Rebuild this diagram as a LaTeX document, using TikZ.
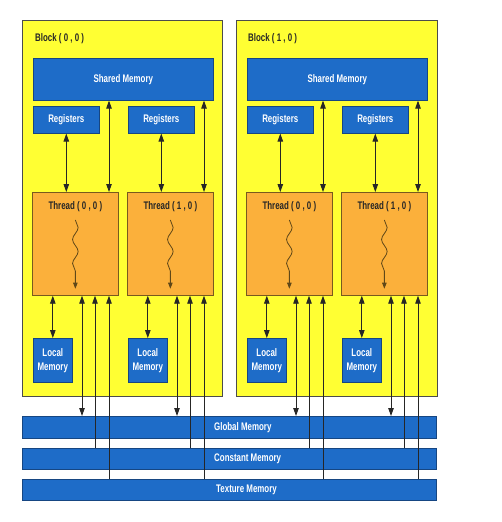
\documentclass[tikz,border=0pt]{standalone}
\usepackage{fontspec}
\setmainfont{Liberation Sans}[FakeStretch=0.72]
\usetikzlibrary{arrows.meta,decorations.pathmorphing,calc}
\definecolor{yellowc}{RGB}{255,255,51}
\definecolor{orangec}{RGB}{251,176,59}
\definecolor{bluec}{RGB}{30,108,200}
\definecolor{blueb}{RGB}{22,70,130}
\definecolor{thrb}{RGB}{120,90,30}
\tikzset{
  blockbox/.style={draw=black!70, fill=yellowc, line width=0.8pt, inner sep=0pt},
  membox/.style={draw=blueb, fill=bluec, text=white, font=\fontsize{11}{12}\selectfont\bfseries, inner sep=0pt, line width=0.6pt},
  bartext/.style={text=white, font=\fontsize{11}{12}\selectfont\bfseries, inner sep=0pt, anchor=west},
  thrbox/.style={draw=thrb, fill=orangec, inner sep=0pt, line width=0.7pt},
  lbl/.style={font=\fontsize{11}{12}\selectfont\bfseries, text=black!85, inner sep=0pt},
  tip/.tip={Triangle[length=8pt,width=5.5pt]},
  ar/.style={line width=0.9pt, draw=black!85, -tip},
  dar/.style={line width=0.9pt, draw=black!85, tip-tip},
  wavy/.style={line width=0.8pt, draw=thrb!80!black, decorate,
    decoration={snake, amplitude=2.8pt, segment length=24pt, post length=6pt},
    -{Triangle[length=6pt,width=4.5pt]}}
}
\begin{document}
\begin{tikzpicture}[x=1pt,y=-1pt]
\useasboundingbox (0,0) rectangle (502,522);
% blocks
\node[blockbox, minimum width=200pt, minimum height=376pt, anchor=north west] (blk0) at (22,20) {};
\node[blockbox, minimum width=201pt, minimum height=376pt, anchor=north west] (blk1) at (236,20) {};
\node[lbl, anchor=west] (bl0) at (35,39) {Block ( 0 , 0 )};
\node[lbl, anchor=west] (bl1) at (248,39) {Block ( 1 , 0 )};
% memory bars
\node[membox, minimum width=414pt, minimum height=22pt, anchor=north west] (glob) at (22,416) {};
\node[membox, minimum width=414pt, minimum height=21pt, anchor=north west] (const) at (22,448) {};
\node[membox, minimum width=414pt, minimum height=21pt, anchor=north west] (tex) at (22,479) {};
\node[bartext] (globt) at ([xshift=192pt]glob.west) {Global Memory};
\node[bartext] (constt) at ([xshift=192pt]const.west) {Constant Memory};
\node[bartext] (text) at ([xshift=194pt]tex.west) {Texture Memory};
% shared memory
\node[membox, minimum width=180pt, minimum height=42pt, anchor=north west] (sm0) at (33,58) {Shared Memory};
\node[membox, minimum width=180pt, minimum height=42pt, anchor=north west] (sm1) at (247,58) {Shared Memory};
% threads
\foreach \i/\L/\b/\t in {1/32/0/{( 0 , 0 )}, 2/127/0/{( 1 , 0 )}, 3/246/1/{( 0 , 0 )}, 4/341/1/{( 1 , 0 )}} {
  \node[thrbox, minimum width=86pt, minimum height=103pt, anchor=north west] (thr\i) at (\L,192) {};
  \node[lbl] (tl\i) at ([yshift=-15pt]thr\i.north) {Thread \t};
  \node[membox, minimum width=66pt, minimum height=27pt, anchor=north west] (reg\i) at (\L+1,106) {Registers};
  \node[membox, align=center, minimum width=39pt, minimum height=44pt, anchor=north west,
        font=\fontsize{11}{14}\selectfont\bfseries] (loc\i) at (\L+1,338) {Local\\Memory};
  \draw[wavy] ([yshift=-28pt]thr\i.north) -- ([yshift=7pt]thr\i.south);
  \draw[dar] (reg\i.south) -- (reg\i.south |- thr\i.north);
  \coordinate (s\i) at ([xshift=77pt]thr\i.north west);
  \draw[dar] (s\i |- sm\b.south) -- (s\i);
  \draw[dar] (loc\i.north |- thr\i.south) -- (loc\i.north);
  \coordinate (g\i) at ([xshift=50pt]thr\i.south west);
  \draw[dar] (g\i) -- (g\i |- glob.north);
  \coordinate (c\i) at ([xshift=63pt]thr\i.south west);
  \draw[ar] (c\i |- const.north) -- (c\i);
  \coordinate (t\i) at ([xshift=77pt]thr\i.south west);
  \draw[ar] (t\i |- tex.north) -- (t\i);
}
\end{tikzpicture}
\end{document}
